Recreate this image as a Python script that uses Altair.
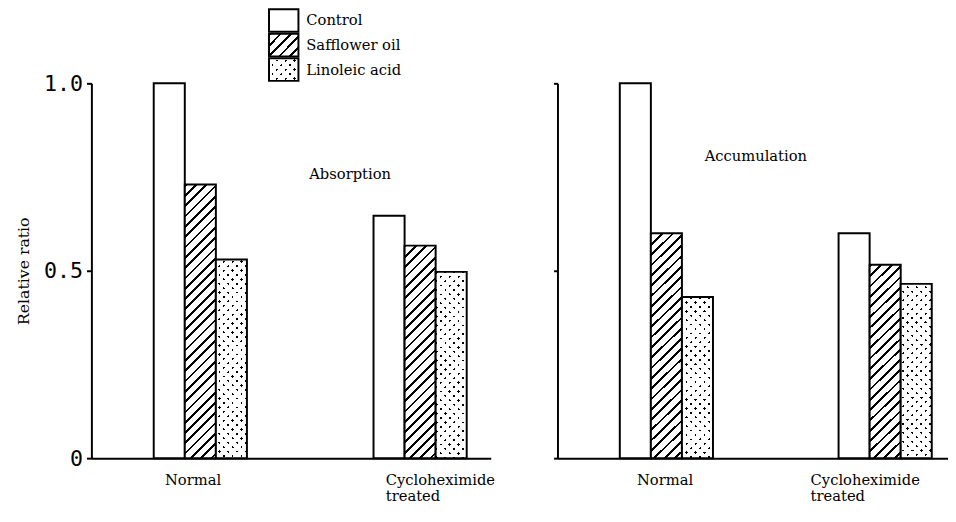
import altair as alt
import pandas as pd

# ---------------- data ----------------
groups = ["Normal", "Cycloheximide treated"]
treatments = ["Control", "Safflower oil", "Linoleic acid"]
absorption_normal = [1.00, 0.73, 0.53]
absorption_cyclo = [0.647, 0.567, 0.497]
accumulation_normal = [1.00, 0.60, 0.43]
accumulation_cyclo = [0.60, 0.516, 0.465]
panel_titles = ["Absorption", "Accumulation"]
y_ticks = [0, 0.5, 1.0]

# ---------------- style ----------------
H = 382
SERIF = "DejaVu Serif"
MONO = "DejaVu Sans Mono"
HATCH_PERIOD, HATCH_BAND = 10.5, 2.8
DOT_PERIOD, DOT_BAND = 9.0, 2.6


def stripe_stops(length, period, band, on, off):
    stops = []
    p = 0.0
    while p < length:
        a = p / length
        b = min((p + band) / length, 1.0)
        c = min((p + period) / length, 1.0)
        stops += [alt.GradientStop(color=on, offset=a), alt.GradientStop(color=on, offset=b),
                  alt.GradientStop(color=off, offset=b), alt.GradientStop(color=off, offset=c)]
        p += period
    return stops


def diag_gradient(w, h, stops, rising=True):
    k = (w + h) / (w * w + h * h)
    if rising:
        return alt.LinearGradient(gradient="linear", stops=stops, x1=0, y1=0, x2=k * w, y2=k * h)
    return alt.LinearGradient(gradient="linear", stops=stops, x1=0, y1=1, x2=k * w, y2=1 - k * h)


def hatch_fill(w, h):
    return diag_gradient(w, h, stripe_stops(w + h, HATCH_PERIOD, HATCH_BAND, "black", "white"), True)


def dot_fills(w, h):
    a = diag_gradient(w, h, stripe_stops(w + h, DOT_PERIOD, DOT_BAND, "black", "white"), True)
    b = diag_gradient(w, h, stripe_stops(w + h, DOT_PERIOD, DOT_BAND, "rgba(255,255,255,0)", "white"), False)
    return a, b


def panel(normal_vals, cyclo_vals, width, pi, po, align, title, tx, ty, left_axis,
          off_normal, off_cyclo):
    df = pd.DataFrame({
        "group": [g for g in groups for _ in treatments],
        "treatment": treatments * len(groups),
        "value": normal_vals + cyclo_vals,
    })
    step = width / (len(groups) - pi + 2 * po)
    bar_w = step * (1 - pi) / len(treatments)

    label_offset = {"condition": {"test": f"datum.value == '{groups[0]}'", "value": off_normal},
                    "value": off_cyclo}
    x = alt.X("group:N", sort=groups,
              scale=alt.Scale(paddingInner=pi, paddingOuter=po, align=align),
              axis=alt.Axis(title=None, ticks=False, labelAngle=0,
                            labelExpr="split(datum.label, ' ')",
                            labelAlign="left", labelOffset=label_offset, labelPadding=15,
                            labelFont=SERIF, labelFontSize=15, labelLineHeight=16,
                            labelColor="black", domainColor="black", domainWidth=2))
    xo = alt.XOffset("treatment:N", sort=treatments,
                     scale=alt.Scale(paddingInner=0, paddingOuter=0))
    if left_axis:
        yaxis = alt.Axis(values=y_ticks, grid=False, title="Relative ratio",
                         labelExpr="datum.value == 0 ? '0' : format(datum.value, '.1f')",
                         labelFont=MONO, labelFontSize=22, labelColor="black", labelPadding=4,
                         tickSize=5, tickWidth=2, tickColor="black",
                         domainColor="black", domainWidth=2,
                         titleFont=SERIF, titleFontSize=16, titleFontWeight="normal",
                         titleColor="black", titlePadding=12)
    else:
        yaxis = alt.Axis(values=y_ticks, grid=False, title=None, labels=False,
                         tickSize=4, tickWidth=2, tickColor="black",
                         domainColor="black", domainWidth=2)
    y = alt.Y("value:Q", scale=alt.Scale(domain=[0, 1]), axis=yaxis)

    base = alt.Chart(df).encode(x=x, xOffset=xo, y=y)
    layers = [base.transform_filter(alt.datum.treatment == treatments[0])
              .mark_bar(fill="white", stroke="black", strokeWidth=2)]
    for g in groups:
        for t in treatments[1:]:
            v = float(df[(df.group == g) & (df.treatment == t)].value.iloc[0])
            h = v * H
            sub = base.transform_filter((alt.datum.group == g) & (alt.datum.treatment == t))
            if t == treatments[1]:
                layers.append(sub.mark_bar(fill=hatch_fill(bar_w, h), stroke="black", strokeWidth=2))
            else:
                fa, fb = dot_fills(bar_w, h)
                layers.append(sub.mark_bar(fill=fa, strokeWidth=0))
                layers.append(sub.mark_bar(fill=fb, stroke="black", strokeWidth=2))
    layers.append(alt.Chart(pd.DataFrame({"t": [title]}))
                  .mark_text(align="left", baseline="middle", font=SERIF, fontSize=15, color="black")
                  .encode(text="t:N", x=alt.value(tx), y=alt.value(ty)))
    return alt.layer(*layers).properties(width=width, height=H)


left = panel(absorption_normal, absorption_cyclo, 407, 0.576, 0.1965, 0.7216,
             panel_titles[0], 222, 92, True, -36, -35)
right = panel(accumulation_normal, accumulation_cyclo, 398, 0.583, 0.184, 0.774,
              panel_titles[1], 150, 74, False, -29, -75)

# ---------------- legend ----------------
legend_df = pd.DataFrame({"treatment": treatments})
ly = alt.Y("treatment:N", sort=treatments, axis=None,
           scale=alt.Scale(paddingInner=0.08, paddingOuter=0.02))
LW, LH = 30, 22.5
LX = 181
lbase = alt.Chart(legend_df).encode(y=ly, x=alt.value(LX), x2=alt.value(LX + LW))
fa, fb = dot_fills(LW, LH)
legend = alt.layer(
    lbase.transform_filter(alt.datum.treatment == treatments[0])
    .mark_rect(fill="white", stroke="black", strokeWidth=2),
    lbase.transform_filter(alt.datum.treatment == treatments[1])
    .mark_rect(fill=hatch_fill(LW, LH), stroke="black", strokeWidth=2),
    lbase.transform_filter(alt.datum.treatment == treatments[2])
    .mark_rect(fill=fa, strokeWidth=0),
    lbase.transform_filter(alt.datum.treatment == treatments[2])
    .mark_rect(fill=fb, stroke="black", strokeWidth=2),
    alt.Chart(legend_df).mark_text(align="left", baseline="middle", font=SERIF,
                                   fontSize=15, color="black")
    .encode(y=ly, x=alt.value(LX + 38), text="treatment:N"),
).properties(width=400, height=74)

chart = alt.vconcat(
    legend,
    alt.hconcat(left, right, spacing=59),
    spacing=-10,
).properties(
    background="white",
    padding={"left": 8, "top": -5, "right": 0, "bottom": 0},
).configure_view(stroke=None)

chart.save("out.html", embed_options={"renderer": "svg", "actions": False})
